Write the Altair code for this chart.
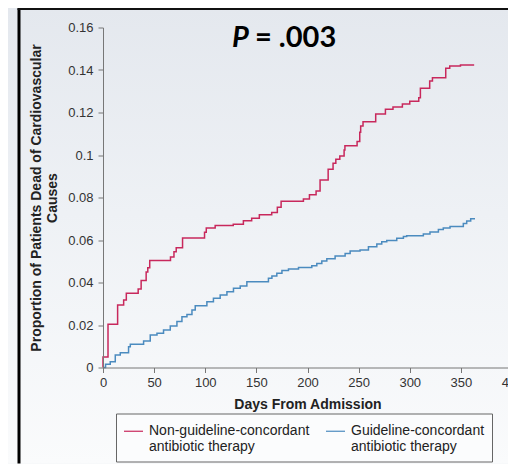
import altair as alt
import pandas as pd

# ---- data ----
series_names = ["Non-guideline-concordant|antibiotic therapy",
                "Guideline-concordant|antibiotic therapy"]

red_days = [0, 0, 4.9, 14.3, 20.2, 22.8, 34.4, 37.3, 42.2, 43.8, 45.7, 66.0, 69.4, 71.6, 77.8,
            99.3, 101.0, 109.7, 127.4, 137.3, 145.4, 152.9, 165.0, 170.5, 174.2, 196.0, 201.9,
            208.4, 212.3, 220.2, 225.0, 227.7, 231.6, 235.8, 236.6, 248.5, 251.1, 252.0, 254.3,
            266.7, 276.2, 283.6, 292.8, 300.0, 308.8, 310.4, 319.5, 322.2, 335.2, 339.1, 349.6, 363.0]
red_vals = [0, 0.005, 0.0203, 0.0294, 0.0318, 0.035, 0.037, 0.0409, 0.045, 0.047, 0.0504, 0.052,
            0.0545, 0.0564, 0.061, 0.0636, 0.0657, 0.0668, 0.0674, 0.0691, 0.0702, 0.0719, 0.073,
            0.0754, 0.0782, 0.0793, 0.0813, 0.0831, 0.0882, 0.0933, 0.0961, 0.098, 0.0995, 0.1024,
            0.1044, 0.1063, 0.1107, 0.1136, 0.1157, 0.1193, 0.1215, 0.1226, 0.124, 0.1253, 0.127,
            0.1314, 0.1348, 0.1364, 0.1408, 0.1419, 0.1424, 0.1424]

blue_days = [0, 2.5, 7.1, 12.0, 16.9, 25.0, 26.7, 39.7, 46.2, 52.8, 59.2, 65.8, 72.3, 77.2, 82.1,
             87.0, 90.2, 101.6, 108.0, 114.6, 121.2, 127.6, 134.2, 140.7, 161.8, 165.2, 170.0,
             175.0, 181.4, 191.2, 204.2, 209.1, 214.0, 218.9, 227.0, 236.8, 241.7, 251.4, 259.6,
             267.8, 272.6, 277.5, 287.3, 293.8, 297.0, 313.3, 319.8, 328.0, 332.8, 339.4, 352.4,
             355.7, 359.6, 363.8]
blue_vals = [0, 0.0015, 0.0027, 0.0059, 0.007, 0.0098, 0.011, 0.0125, 0.0153, 0.0161, 0.0176,
             0.0195, 0.0216, 0.0239, 0.025, 0.0271, 0.0291, 0.031, 0.0326, 0.0341, 0.0357, 0.0373,
             0.0384, 0.0404, 0.042, 0.0431, 0.0443, 0.0456, 0.0464, 0.0471, 0.0479, 0.049, 0.0501,
             0.0512, 0.0525, 0.0537, 0.0548, 0.0553, 0.0568, 0.0581, 0.0592, 0.0598, 0.0608,
             0.0617, 0.062, 0.0628, 0.0638, 0.0649, 0.0656, 0.0663, 0.0678, 0.0689, 0.07, 0.07]

x_ticks = [0, 50, 100, 150, 200, 250, 300, 350, 400]
y_ticks = [0, 0.02, 0.04, 0.06, 0.08, 0.1, 0.12, 0.14, 0.16]

p_label = "P"
p_value = "= .003"

# ---- build table ----
rows = []
for name, days, vals in [(series_names[0], red_days, red_vals), (series_names[1], blue_days, blue_vals)]:
    for i, (d, v) in enumerate(zip(days, vals)):
        rows.append({"group": name, "day": d, "prop": v, "idx": i})
df = pd.DataFrame(rows)

RED = "#c8285c"
BLUE = "#4b8bbf"
FONT = "Liberation Sans"

W, H = 409, 340
PAD_L, PAD_T, PAD_R, PAD_B = 95, 19.5, -4, 96

one = pd.DataFrame({"a": [0]})

bg = alt.Chart(one).mark_rect(
    fill=alt.Gradient(gradient="linear",
                      stops=[alt.GradientStop(color="#e4e8ee", offset=0),
                             alt.GradientStop(color="#eef1f5", offset=0.45),
                             alt.GradientStop(color="#fafbfc", offset=1)],
                      x1=0, x2=0, y1=0, y2=1)
).encode(x=alt.value(-PAD_L), x2=alt.value(W + 8), y=alt.value(-PAD_T), y2=alt.value(H + PAD_B))

left_border = alt.Chart(one).mark_rule(color="#000000", strokeWidth=3).encode(
    x=alt.value(-84), y=alt.value(-19), y2=alt.value(H + PAD_B))
top_border = alt.Chart(one).mark_rule(color="#111111", strokeWidth=2).encode(
    x=alt.value(-85.5), x2=alt.value(W + 8), y=alt.value(-18.5))

lines = alt.Chart(df).mark_line(interpolate="step-after", strokeWidth=1.5).encode(
    x=alt.X("day:Q", scale=alt.Scale(domain=[0, 400], nice=False),
            axis=alt.Axis(values=x_ticks, title="Days From Admission", grid=False, zindex=1,
                          tickSize=5, labelPadding=4, titlePadding=8, domainColor="#777",
                          tickColor="#777", labelColor="#333", labelFontSize=13,
                          labelFont=FONT, titleFont=FONT, titleFontSize=14,
                          titleFontWeight="bold", titleColor="#222", labelFlush=False)),
    y=alt.Y("prop:Q", scale=alt.Scale(domain=[0, 0.16], nice=False),
            axis=alt.Axis(values=y_ticks, format="~g", grid=False, zindex=1,
                          title=["Proportion of Patients Dead of Cardiovascular", "Causes"],
                          tickSize=5, labelPadding=5, titlePadding=8, domainColor="#777",
                          tickColor="#777", labelColor="#333", labelFontSize=13,
                          labelFont=FONT, titleFont=FONT, titleFontSize=14,
                          titleFontWeight="bold", titleColor="#222", labelFlush=False)),
    color=alt.Color("group:N", scale=alt.Scale(domain=series_names, range=[RED, BLUE]),
                    legend=alt.Legend(orient="none", legendX=13, legendY=386,
                                      direction="horizontal", title=None,
                                      symbolType="stroke", symbolSize=361,
                                      symbolStrokeWidth=1.2, labelOffset=5,
                                      labelExpr="split(datum.label, '|')",
                                      labelFont=FONT, labelFontSize=14, labelColor="#222",
                                      labelLimit=400, columnPadding=13, padding=7,
                                      strokeColor="#666", fillColor="#fbfcfd")),
    detail="group:N",
    order="idx:Q",
)

p_text = alt.Chart(one).mark_text(text=p_label, font="Lato", fontSize=29, fontWeight="bold",
                                  fontStyle="italic", align="left", baseline="alphabetic",
                                  color="#000000").encode(x=alt.value(129), y=alt.value(19.5))
v_text = alt.Chart(one).mark_text(text=p_value, font="Lato", fontSize=29, fontWeight="bold",
                                  align="left", baseline="alphabetic",
                                  color="#000000").encode(x=alt.value(152), y=alt.value(19.5))

chart = alt.layer(bg, left_border, top_border, lines, p_text, v_text).properties(
    width=W, height=H,
    autosize=alt.AutoSizeParams(type="none"),
    padding={"left": PAD_L, "top": PAD_T, "right": PAD_R, "bottom": PAD_B},
    background="#f4f6f8",
).configure_view(stroke=None)

chart.save("out.html", embed_options={"renderer": "svg", "actions": False})
